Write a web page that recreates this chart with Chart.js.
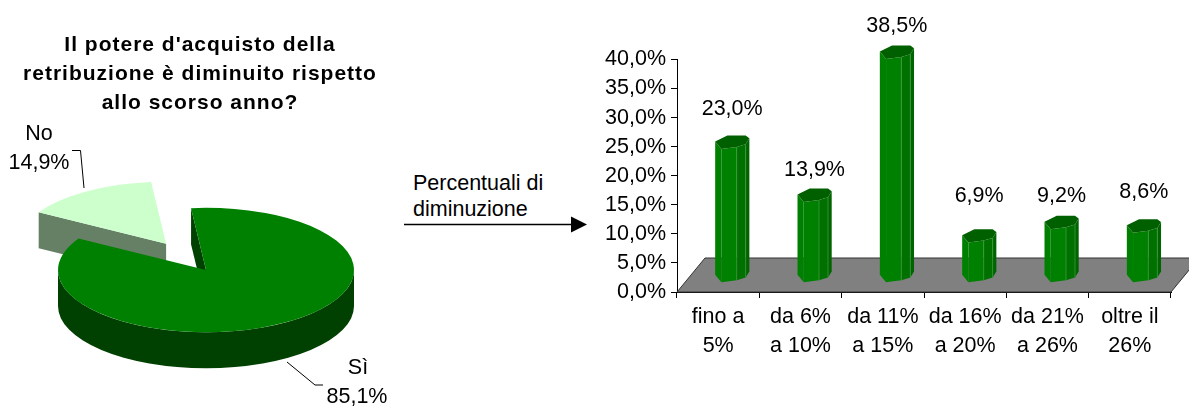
<!DOCTYPE html>
<html lang="it">
<head>
    <meta charset="UTF-8">
    <title>Potere d'acquisto</title>
    <style>
        html, body { margin: 0; background: #fff; overflow: hidden; }
        body { position: relative; width: 1189px; height: 407px; font-family: "Liberation Sans", Arial, sans-serif; }
        canvas { position: absolute; top: 0; }
        #pieChart { left: 0; }
        #barChart { left: 600px; }
        #note { position: absolute; left: 413px; top: 170px; font-size: 21.5px; line-height: 26px; color: #000; white-space: nowrap; }
        #arrow { position: absolute; left: 400px; top: 210px; }
    </style>
    <script src="https://cdn.jsdelivr.net/npm/chart.js"></script>
</head>
<body>
    <canvas id="pieChart" width="400" height="407"></canvas>
    <canvas id="barChart" width="589" height="407"></canvas>
    <div id="note">Percentuali di<br>diminuzione</div>
    <svg id="arrow" width="190" height="30">
        <line x1="4" y1="14.5" x2="175" y2="14.5" stroke="#000" stroke-width="1.5"/>
        <polygon points="171,6.5 187,14.5 171,22.5" fill="#000"/>
    </svg>
    <script>
        const pieTitle = ["Il potere d'acquisto della", "retribuzione è diminuito rispetto", "allo scorso anno?"];
        const pieLabels = ['Sì', 'No'];
        const pieValues = [85.1, 14.9];

        const barLabels = [['fino a', '5%'], ['da 6%', 'a 10%'], ['da 11%', 'a 15%'], ['da 16%', 'a 20%'], ['da 21%', 'a 26%'], ['oltre il', '26%']];
        const barValues = [23.0, 13.9, 38.5, 6.9, 9.2, 8.6];

        const FONT = '"Liberation Sans", Arial, sans-serif';
        const pct = v => v.toFixed(1).replace('.', ',') + '%';

        // ---- 3D pie: the arcs are drawn by Chart.js on a flattened context
        const FLAT = 0.42;
        const PIE_RADIUS = 148;
        const PIE_DEPTH = 36;
        const PIE_SHIFT = 6;
        const EXPLODE = [0, 74];
        const pieWalls = ['#004000', '#668066'];

        const pie3d = {
            id: 'pie3d',
            afterDatasetsUpdate(chart) {
                // pie option "offset" would shrink the radius, so pull the slice out here
                chart.getDatasetMeta(0).data.forEach((a, i) => {
                    const mid = (a.startAngle + a.endAngle) / 2;
                    a.x += PIE_SHIFT + Math.cos(mid) * EXPLODE[i];
                    a.y += Math.sin(mid) * EXPLODE[i];
                    a.outerRadius = PIE_RADIUS;
                });
            },
            beforeDraw(chart) {
                chart.ctx.letterSpacing = '1px';
            },
            beforeDatasetsDraw(chart) {
                const ctx = chart.ctx;
                ctx.letterSpacing = '0px';
                const arcs = chart.getDatasetMeta(0).data;
                const y0 = arcs[0].y;
                for (let i = arcs.length - 1; i >= 0; i--) {
                    const a = arcs[i];
                    const cx = a.x;
                    const cy = y0 + (a.y - y0) * FLAT;
                    const r = a.outerRadius;
                    ctx.fillStyle = pieWalls[i];
                    const cut = ang => {
                        const rx = cx + Math.cos(ang) * r;
                        const ry = cy + Math.sin(ang) * r * FLAT;
                        ctx.beginPath();
                        ctx.moveTo(cx, cy);
                        ctx.lineTo(rx, ry);
                        ctx.lineTo(rx, ry + PIE_DEPTH);
                        ctx.lineTo(cx, cy + PIE_DEPTH);
                        ctx.closePath();
                        ctx.fill();
                    };
                    if (Math.cos(a.startAngle) < 0) cut(a.startAngle);
                    if (Math.cos(a.endAngle) > 0) cut(a.endAngle);
                    // front part of the rim
                    for (let t = -1; t <= 1; t++) {
                        const from = Math.max(a.startAngle, t * 2 * Math.PI);
                        const to = Math.min(a.endAngle, t * 2 * Math.PI + Math.PI);
                        if (to <= from) continue;
                        ctx.beginPath();
                        ctx.ellipse(cx, cy, r, r * FLAT, 0, from, to);
                        ctx.ellipse(cx, cy + PIE_DEPTH, r, r * FLAT, 0, to, from, true);
                        ctx.closePath();
                        ctx.fill();
                    }
                }
                ctx.save();
                ctx.translate(0, y0);
                ctx.scale(1, FLAT);
                ctx.translate(0, -y0);
            },
            afterDatasetsDraw(chart) {
                const ctx = chart.ctx;
                ctx.restore();
                ctx.save();
                ctx.strokeStyle = '#000';
                ctx.lineWidth = 1;
                ctx.beginPath();
                ctx.moveTo(287, 362); ctx.lineTo(315, 385); ctx.lineTo(323, 385);
                ctx.moveTo(84, 188); ctx.lineTo(80.5, 150.5); ctx.lineTo(72, 150.5);
                ctx.stroke();
                ctx.fillStyle = '#000';
                ctx.font = '21.5px ' + FONT;
                ctx.textAlign = 'center';
                ctx.textBaseline = 'middle';
                ctx.fillText(pieLabels[1], 39, 134);
                ctx.fillText(pct(pieValues[1]), 39, 163);
                ctx.fillText(pieLabels[0], 358, 368);
                ctx.fillText(pct(pieValues[0]), 357, 397);
                ctx.restore();
            }
        };

        new Chart(document.getElementById('pieChart'), {
            type: 'pie',
            data: {
                labels: pieLabels,
                datasets: [{
                    data: pieValues,
                    backgroundColor: ['#008000', '#CCFFCC'],
                    borderWidth: 0,
                    clip: false
                }]
            },
            options: {
                responsive: false,
                animation: false,
                rotation: -5.8,
                plugins: {
                    legend: { display: false },
                    tooltip: { enabled: false },
                    title: {
                        display: true,
                        text: pieTitle,
                        color: '#000',
                        font: { family: FONT, size: 21, weight: 'bold', lineHeight: 29 / 21 },
                        padding: { top: 30.5, bottom: 15.5 }
                    }
                },
                events: []
            },
            plugins: [pie3d]
        });

        // ---- 3D columns: floor and prisms are placed from the chart's scales
        const DEPTH_X = 28;
        const DEPTH_Y = 34;
        const COLUMN_LIFT = 16;
        const front = [[-17, -0.7], [-10.8, 6.7], [4.5, 4.7], [13.5, 2], [17.2, -4]];
        const back = [[13.5, -6.7], [-4.8, -6.7]];
        const faceColors = ['#008000', '#008000', '#007000', '#006400'];
        const labelLift = [33, 25, 26, 40, 26, 34];

        const columns3d = {
            id: 'columns3d',
            beforeDatasetsDraw(chart) {
                const ctx = chart.ctx;
                const { left, right, bottom } = chart.chartArea;
                ctx.save();
                ctx.fillStyle = '#808080';
                ctx.strokeStyle = '#333';
                ctx.lineWidth = 1;
                ctx.beginPath();
                ctx.moveTo(left, bottom);
                ctx.lineTo(left + DEPTH_X, bottom - DEPTH_Y);
                ctx.lineTo(right + DEPTH_X, bottom - DEPTH_Y);
                ctx.lineTo(right, bottom);
                ctx.closePath();
                ctx.fill();
                ctx.stroke();
                ctx.restore();
            },
            afterDatasetsDraw(chart) {
                const ctx = chart.ctx;
                ctx.save();
                chart.getDatasetMeta(0).data.forEach((bar, i) => {
                    const cx = bar.x + DEPTH_X / 2;
                    const top = bar.y - COLUMN_LIFT;
                    const base = bar.base - COLUMN_LIFT;
                    for (let f = 0; f < front.length - 1; f++) {
                        const p = front[f], q = front[f + 1];
                        ctx.fillStyle = faceColors[f];
                        ctx.beginPath();
                        ctx.moveTo(cx + p[0], top + p[1]);
                        ctx.lineTo(cx + q[0], top + q[1]);
                        ctx.lineTo(cx + q[0], base + q[1]);
                        ctx.lineTo(cx + p[0], base + p[1]);
                        ctx.closePath();
                        ctx.fill();
                    }
                    ctx.strokeStyle = '#3a9a3a';
                    ctx.lineWidth = 0.8;
                    ctx.beginPath();
                    [front[2], front[3]].forEach(p => {
                        ctx.moveTo(cx + p[0], top + p[1]);
                        ctx.lineTo(cx + p[0], base + p[1]);
                    });
                    ctx.stroke();
                    ctx.fillStyle = '#006000';
                    ctx.beginPath();
                    front.concat(back).forEach((p, n) => {
                        if (n === 0) ctx.moveTo(cx + p[0], top + p[1]);
                        else ctx.lineTo(cx + p[0], top + p[1]);
                    });
                    ctx.closePath();
                    ctx.fill();
                    ctx.fillStyle = '#000';
                    ctx.font = '21.5px ' + FONT;
                    ctx.textAlign = 'center';
                    ctx.textBaseline = 'middle';
                    ctx.fillText(pct(barValues[i]), cx, top - labelLift[i]);
                });
                ctx.restore();
            }
        };

        new Chart(document.getElementById('barChart'), {
            type: 'bar',
            data: {
                labels: barLabels,
                datasets: [{
                    data: barValues,
                    backgroundColor: 'rgba(0,0,0,0)',
                    barThickness: 34
                }]
            },
            options: {
                responsive: false,
                animation: false,
                layout: { autoPadding: false, padding: { top: 59.5, right: 18, bottom: 0, left: 0 } },
                scales: {
                    x: {
                        afterFit(scale) { scale.height = 115; },
                        border: { color: '#000' },
                        grid: { drawOnChartArea: false, offset: true, tickLength: 6, color: '#000' },
                        ticks: {
                            color: '#000',
                            maxRotation: 0,
                            autoSkip: false,
                            padding: 5,
                            font: { family: FONT, size: 21.5, lineHeight: 29 / 21.5 }
                        }
                    },
                    y: {
                        min: 0,
                        max: 40,
                        afterFit(scale) { scale.width = 77; },
                        border: { color: '#000' },
                        grid: { drawOnChartArea: false, tickLength: 6, color: '#000' },
                        ticks: {
                            stepSize: 5,
                            color: '#000',
                            padding: 5,
                            font: { family: FONT, size: 21.5 },
                            callback: v => pct(v)
                        }
                    }
                },
                plugins: {
                    legend: { display: false },
                    tooltip: { enabled: false }
                },
                events: []
            },
            plugins: [columns3d]
        });
    </script>
</body>
</html>
